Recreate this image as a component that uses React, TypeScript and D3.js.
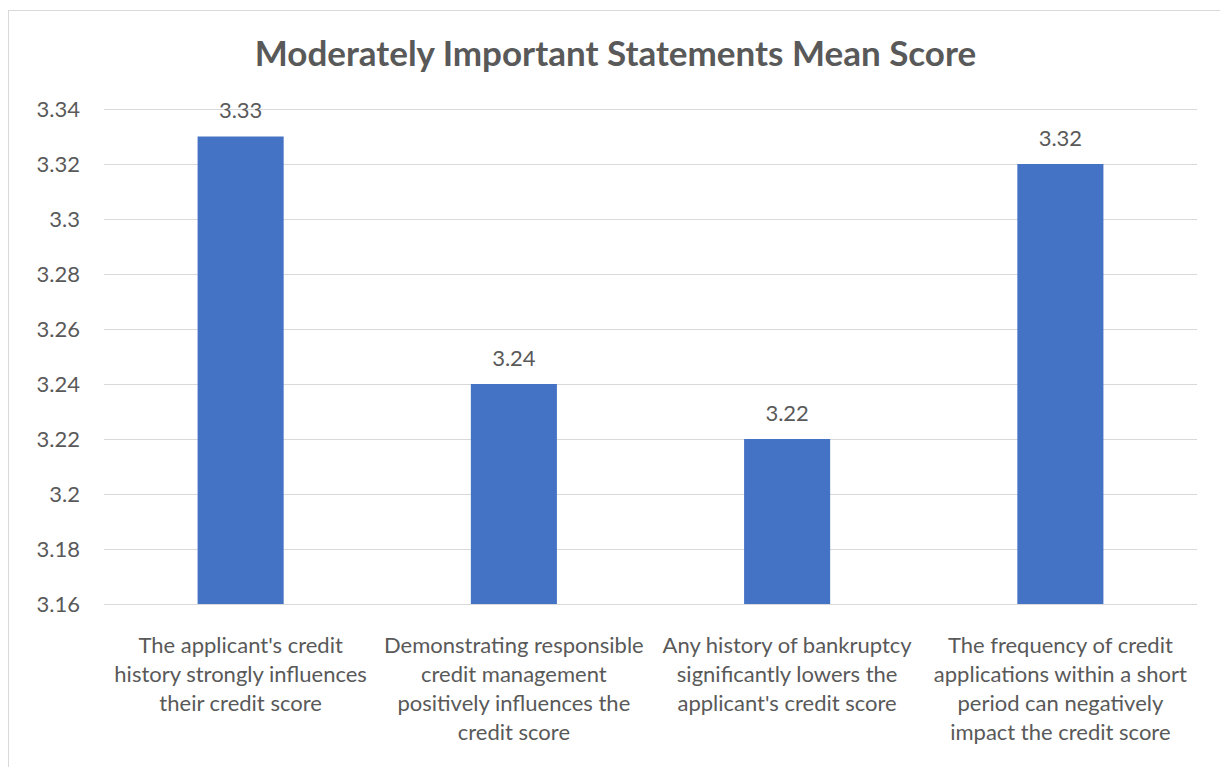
import React from "react";
import * as d3 from "d3";

const categories: string[][] = [
  ["The applicant's credit", "history strongly influences", "their credit score"],
  ["Demonstrating responsible", "credit management", "positively influences the", "credit score"],
  ["Any history of bankruptcy", "significantly lowers the", "applicant's credit score"],
  ["The frequency of credit", "applications within a short", "period can negatively", "impact the credit score"],
];
const values: number[] = [3.33, 3.24, 3.22, 3.32];
const yTicks: number[] = [3.16, 3.18, 3.2, 3.22, 3.24, 3.26, 3.28, 3.3, 3.32, 3.34];
const title = "Moderately Important Statements Mean Score";

const W = 1220;
const H = 767;
const FONT = "Lato, 'Open Sans', sans-serif";
const TXT = "#595959";

export default function App() {
  const left = 104, right = 1197, top = 109, bottom = 604;
  const x = d3.scaleBand<number>().domain(d3.range(values.length)).range([left, right]).paddingInner(0.685).paddingOuter(0.3425);
  const y = d3.scaleLinear().domain([3.16, 3.34]).range([bottom, top]);
  const fmt = (v: number) => String(+v.toFixed(2));
  return (
    <div style={{ position: "fixed", left: 0, top: 0 }}>
      <svg width={W} height={H} style={{ display: "block", background: "#fff" }}>
        <rect x={8.5} y={10.5} width={W + 10} height={H + 10} fill="#fff" stroke="#d9d9d9" strokeWidth={1} />
        <text x={615.5} y={66} textAnchor="middle" fontFamily={FONT} fontWeight="bold" fontSize={35} fill={TXT}>
          {title}
        </text>
        {yTicks.map((t) => (
          <g key={t}>
            <line x1={left} x2={right} y1={Math.round(y(t)) + 0.5} y2={Math.round(y(t)) + 0.5} stroke="#d9d9d9" strokeWidth={1} />
            <text x={80} y={y(t)} dy="0.35em" textAnchor="end" fontFamily={FONT} fontSize={22} fill={TXT}>
              {fmt(t)}
            </text>
          </g>
        ))}
        {values.map((v, i) => (
          <g key={i}>
            <rect x={x(i)} y={y(v)} width={x.bandwidth()} height={bottom - y(v)} fill="#4472c4" />
            <text x={(x(i) as number) + x.bandwidth() / 2} y={y(v) - 26} dy="0.35em" textAnchor="middle" fontFamily={FONT} fontSize={22} fill={TXT}>
              {v.toFixed(2)}
            </text>
          </g>
        ))}
        {categories.map((lines, i) => {
          const cx = left + ((right - left) / values.length) * (i + 0.5);
          return (
            <text key={i} textAnchor="middle" fontFamily={FONT} fontSize={22} fill={TXT}>
              {lines.map((l, j) => (
                <tspan key={j} x={cx} y={645 + j * 29} dy="0.35em">
                  {l}
                </tspan>
              ))}
            </text>
          );
        })}
      </svg>
    </div>
  );
}
